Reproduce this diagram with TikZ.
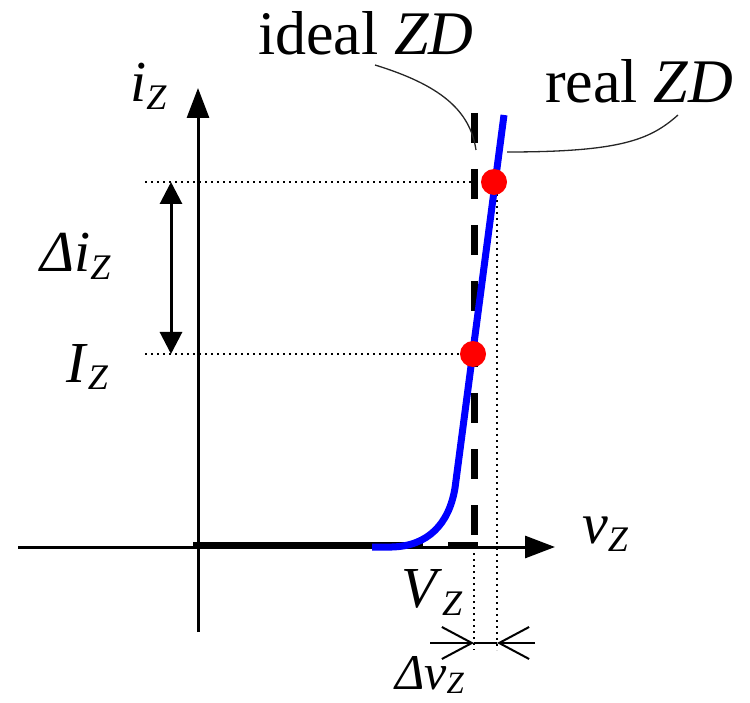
\documentclass[tikz,border=0pt]{standalone}
\usepackage{fontspec}
\setmainfont{Liberation Serif}
\usetikzlibrary{arrows.meta}
\newcommand{\mysub}[1]{\raisebox{-8pt}{\fontsize{36}{36}\selectfont\itshape #1}}
\newcommand{\mysubb}[1]{\raisebox{-4pt}{\fontsize{31}{31}\selectfont\itshape #1}}
\begin{document}
\begin{tikzpicture}[x=1pt,y=-1pt,
  axis/.style={line width=3pt,-{Triangle[length=30pt,width=22pt]}},
  dotline/.style={line width=2pt,dash pattern=on 2pt off 4pt},
  ideal/.style={line width=7pt,black},
  realc/.style={line width=7pt,blue},
  leader/.style={line width=1.3pt,black!85},
  reddot/.style={circle,fill=red,inner sep=0pt,minimum size=26pt},
  lbl/.style={inner sep=0pt,anchor=base west,font=\fontsize{58}{58}\selectfont},
  tlbl/.style={inner sep=0pt,anchor=base west,font=\fontsize{62}{62}\selectfont},
  barb/.style={line width=2pt,-{Straight Barb[length=30pt,width=32pt,line width=2pt]}}]
\useasboundingbox (0,0) rectangle (750,703);
% coordinates
\coordinate (xl) at (18,547);
\coordinate (xr) at (555,547);
\coordinate (yb) at (198,632);
\coordinate (yt) at (198,88);
\coordinate (h1l) at (145,182);
\coordinate (h2l) at (145,354);
\coordinate (h1r) at (494,182);
\coordinate (h2r) at (473,354);
\coordinate (va) at (474,547);
\coordinate (vab) at (474,650);
\coordinate (vb) at (497,182);
\coordinate (vbb) at (497,650);
\coordinate (dl) at (430,643);
\coordinate (da) at (474,643);
\coordinate (db) at (497,643);
\coordinate (dr) at (535,643);
\coordinate (it) at (171,182);
\coordinate (ib) at (171,354);
\coordinate (idt) at (474,113);
\coordinate (idb) at (474,547);
\coordinate (ihr) at (478,545);
\coordinate (ihl) at (193,545);
\coordinate (rs) at (372,547);
\coordinate (rk) at (392,547);
\coordinate (rb) at (455,488);
\coordinate (rt) at (504,115);
\coordinate (lis) at (375,65);
\coordinate (lie) at (476,150);
\coordinate (lrs) at (678,115);
\coordinate (lre) at (507,152);
% dotted guides
\draw[dotline] (h1l) -- (h1r);
\draw[dotline] (h2l) -- (h2r);
\draw[dotline] (va) -- (vab);
\draw[dotline] (vb) -- (vbb);
% axes
\draw[axis] (xl) -- (xr);
\draw[axis] (yb) -- (yt);
% delta i arrow
\draw[line width=3pt,{Triangle[length=22pt,width=22pt]}-{Triangle[length=22pt,width=22pt]}] (it) -- (ib);
% delta v arrows
\draw[barb] (dl) -- (da);
\draw[barb] (dr) -- (db);
\draw[line width=1.5pt] (da) -- (db);
% ideal characteristic
\draw[ideal,dash pattern=on 30pt off 26pt] (idt) -- (idb);
\draw[ideal,dash pattern=on 30pt off 25pt on 300pt off 25pt] (ihr) -- (ihl);
% real characteristic
\draw[realc] (rs) -- (rk) .. controls (428,546) and (449,524) .. (rb) -- (rt);
% operating points
\node[reddot] (p1) at (h2r) {};
\node[reddot] (p2) at (h1r) {};
% leaders
\draw[leader] (lis) .. controls (440,85) and (470,110) .. (lie);
\draw[leader] (lrs) .. controls (650,140) and (620,152) .. (lre);
% labels
\node[tlbl] (tideal) at (258,55) {ideal \textit{ZD}};
\node[tlbl] (treal) at (545,103) {real \textit{ZD}};
\node[lbl] (liz) at (130,102) {\textit{i}\mysub{Z}};
\node[lbl] (ldiz) at (40,272) {\textit{Δi}\mysub{Z}};
\node[lbl] (lIz) at (66,382) {\textit{I}\mysub{Z}};
\node[lbl] (lVz) at (401,607) {\textit{V}\mysub{Z}};
\node[lbl,font=\fontsize{50}{50}\selectfont] (ldvz) at (395,689) {\textit{Δv}\mysubb{Z}};
\node[lbl] (lvz) at (582,543) {\textit{v}\mysub{Z}};
\end{tikzpicture}
\end{document}
